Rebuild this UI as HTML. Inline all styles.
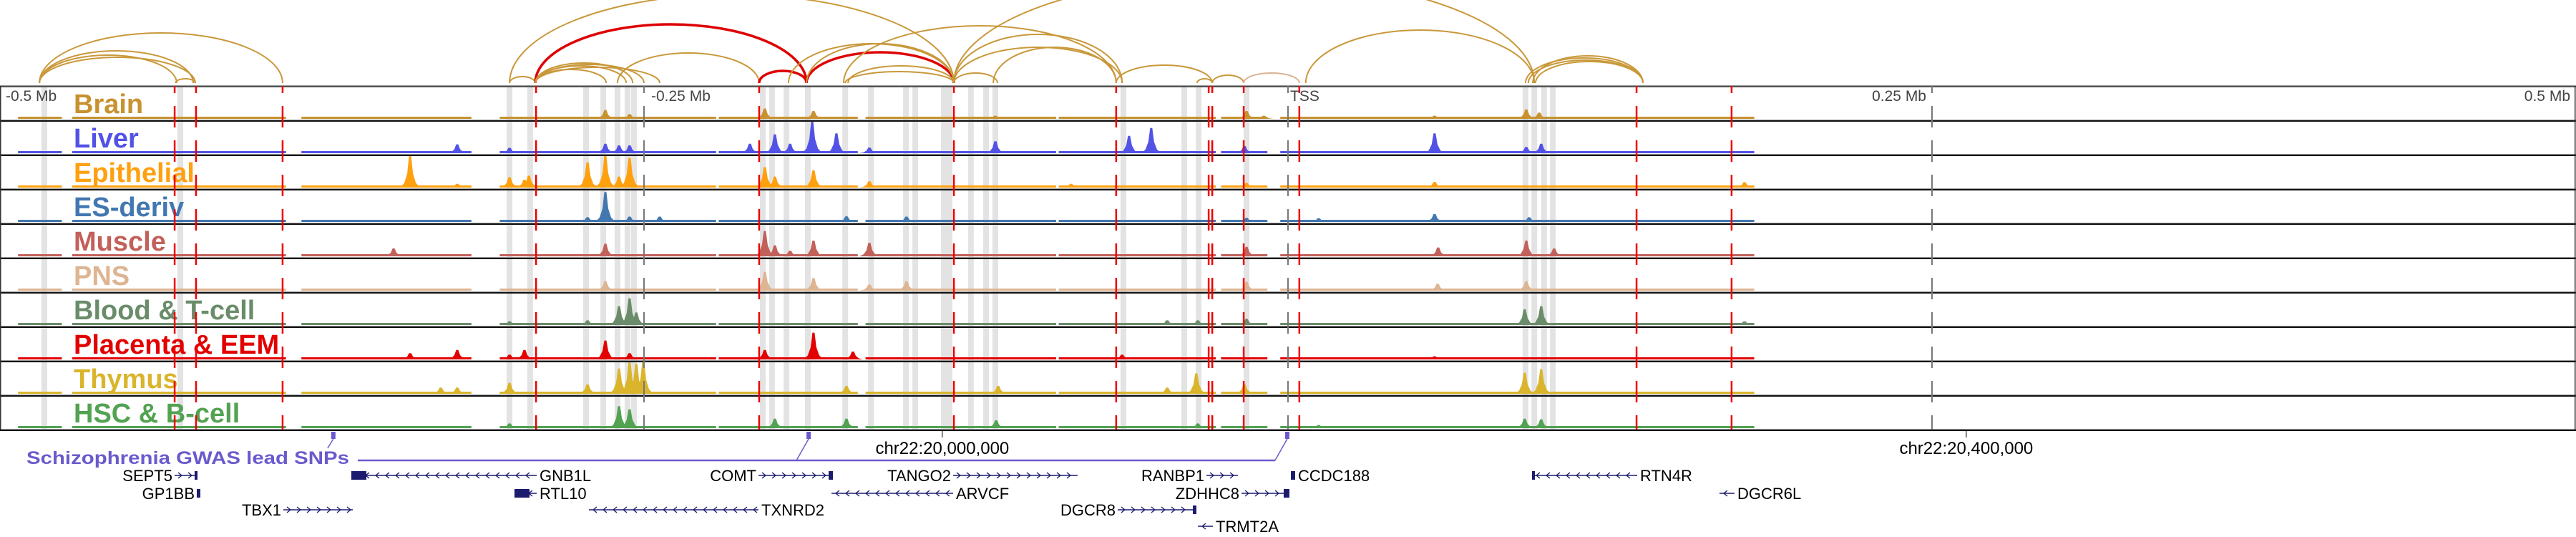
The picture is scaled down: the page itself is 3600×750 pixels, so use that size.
<!DOCTYPE html>
<html><head><meta charset="utf-8">
<style>
html,body{margin:0;padding:0;background:#fff;}
svg{display:block;font-family:"Liberation Sans",Arial,sans-serif;}
</style></head>
<body>
<svg id="chart" width="3600" height="750" viewBox="0 0 3600 750" xmlns="http://www.w3.org/2000/svg">
<g id="bands"></g>
<g id="arcs"></g>
<g id="tracks"></g>
<g id="vlines"></g>
<g id="axis"></g>
<g id="genes"></g>
</svg>
<script>
// ---- data (genomic offsets in kb relative to TSS) ----
const trackNames = ["Brain","Liver","Epithelial","ES-deriv","Muscle","PNS","Blood & T-cell","Placenta & EEM","Thymus","HSC & B-cell"];
const trackColors = ["#c8922f","#5252e6","#ffa00f","#4277b0","#c2605a","#deb592","#6a8c6a","#e20000","#dab52c","#52a252"];
const coverage = [[-493,-476],[-472,-389],[-383,-317],[-306,-222],[-221,-167],[-164,-90],[-89,-28],[-26,-8],[-3,181]];
const peaksBrain = [[-265,0.28],[-203.1,0.33],[-184.2,0.25],[-255.6,0.15],[-302.2,0.07],[92.5,0.3],[97.5,0.2],[56.9,0.1],[-16.1,0.25],[-9.4,0.1],[-482.8,0.06],[-113.6,0.1]];
const peaksLiver = [[-184.7,1.0],[-175.3,0.63],[-199.2,0.6],[-193.3,0.3],[-322.5,0.28],[-265,0.3],[-259.7,0.25],[-255.6,0.25],[-208.9,0.3],[-113.6,0.38],[-162.5,0.18],[-302.2,0.17],[-53.1,0.8],[-61.7,0.55],[56.9,0.63],[98.3,0.3],[92.5,0.2],[-16.9,0.23]];
const peaksEpithelial = [[-340.8,1.0],[-265,1.0],[-271.9,0.8],[-255.6,0.95],[-259.7,0.35],[-302.2,0.33],[-294.7,0.38],[-296.4,0.25],[-203.1,0.65],[-184.2,0.55],[-199.2,0.35],[-162.5,0.2],[-322.5,0.12],[56.9,0.18],[-84.2,0.12],[177.2,0.17],[-16.1,0.15]];
const peaksES = [[-265,0.95],[-271.9,0.15],[-243.9,0.17],[-255.6,0.17],[-171.4,0.18],[-148.1,0.17],[56.9,0.25],[93.6,0.15],[11.9,0.12],[-16.1,0.13]];
const peaksMuscle = [[-203.1,0.8],[-184.2,0.5],[-265,0.4],[-162.5,0.43],[-199.2,0.35],[-347.2,0.25],[-193.3,0.18],[92.5,0.5],[58.3,0.28],[103.3,0.25],[-16.1,0.3]];
const peaksPNS = [[-203.1,0.6],[-184.2,0.4],[-265,0.3],[-148.1,0.3],[-162.5,0.2],[92.5,0.3],[58.1,0.22],[-16.1,0.28]];
const peaksBlood = [[-255.6,0.85],[-259.7,0.6],[-253,0.4],[-271.9,0.15],[98.3,0.6],[91.9,0.5],[-46.9,0.15],[-35,0.15],[-16.1,0.2],[177.2,0.12],[-302.2,0.12]];
const peaksPlacenta = [[-184.2,0.85],[-265,0.6],[-322.5,0.3],[-340.8,0.2],[-296.4,0.3],[-302.2,0.15],[-203.1,0.3],[-168.9,0.25],[-255.6,0.2],[-64.4,0.15],[56.9,0.1]];
const peaksThymus = [[-255.6,1.0],[-250.3,1.0],[-253,0.95],[-259.7,0.8],[-271.9,0.3],[-302.2,0.35],[-328.9,0.2],[-322.5,0.2],[-171.4,0.25],[-112.5,0.25],[-35.6,0.65],[98.3,0.78],[91.9,0.67],[-16.9,0.3],[-46.9,0.2]];
const peaksHSC = [[-259.7,0.7],[-255.6,0.6],[-302.2,0.15],[-171.4,0.3],[-199.2,0.3],[-113.3,0.25],[91.9,0.3],[98.3,0.28],[-35,0.15],[11.9,0.1]];
const allPeaks = [peaksBrain,peaksLiver,peaksEpithelial,peaksES,peaksMuscle,peaksPNS,peaksBlood,peaksPlacenta,peaksThymus,peaksHSC];
const enhancerKb = [-482.8,-430,-302.2,-294.2,-272.5,-265.8,-260.3,-256.4,-253.9,-203.9,-200.3,-194.7,-186.4,-171.9,-161.9,-148.3,-144.7,-133.6,-131.4,-123.1,-117.2,-113.6,-63.9,-40.3,-34.7,-16.1,92.2,95.6,99.4,102.8];
const snpPos = [-370.6,-186.1,-0.3];
const redLineKb = [-432.2,-423.9,-390.3,-291.9,-205.3,-129.7,-66.7,-30.8,-29.4,-17.2,4.4,135.3,172.2];
const arcStart = [-484.7,-484.7,-484.7,-484.7,-431.9,-302.2,-302.2,-292.2,-292.2,-292.2,-292.2,-292.2,-292.2,-260.3,-205.3,-186.9,-193.9,-186.9,-170.8,-171.9,-129.7,-172.5,-129.7,-114.4,-129.7,-66.7,-35.3,-29.4,-17.2,6.9,92.2,93.3,95.0,96.1,-129.7];
const arcEnd   = [-390.3,-431.4,-425,-424.2,-424.2,-292.2,-129.7,-186.9,-264.7,-250,-254.4,-256.9,-243.9,-205.3,-186.9,-129.7,-129.7,-129.7,-129.7,-129.7,-112.8,-66.7,-64.4,-66.7,-64.4,-29.4,-29.4,-17.2,4.4,95.6,137.8,137.8,137.8,137.8,95.6];
const arcPeak  = [46,77,71,80,110,107,-8,34,97,90,88,92,94,74,99,73,61,61,92,100,102,36,48,66,66,91,110,105,102,42,81,84,78,86,-34];
const arcKind  = ["g","g","g","g","g","g","g","r","g","g","g","g","g","g","r","r","g","g","g","g","g","g","g","g","g","g","g","g","t","g","g","g","g","g","g"];
const axisKb = [-500,-250,0,250,500];
const axisText = ["-0.5 Mb","-0.25 Mb","TSS","0.25 Mb","0.5 Mb"];
const coordText = ["chr22:20,000,000","chr22:20,400,000"];
const coordKb = [-134.2,263.3];

// ---- scales ----
const W=3600, TOP=120, TH=48;
const x = kb => 1800 + kb*3.6;
const NS="http://www.w3.org/2000/svg";
function mk(tag, attrs, parent){const e=document.createElementNS(NS,tag);for(const k in attrs)e.setAttribute(k,attrs[k]);parent.appendChild(e);return e;}
const gB=document.getElementById('bands'),gA=document.getElementById('arcs'),gT=document.getElementById('tracks'),gV=document.getElementById('vlines'),gX=document.getElementById('axis'),gG=document.getElementById('genes');

// bands
enhancerKb.forEach(k=>{
  const r=mk('rect',{x:x(k)-4,y:TOP+2,width:8,height:TH*10-2,fill:"#e3e3e3"},gB);
  
  
});
// arcs
const arcColor={g:"#c9983a",r:"#de0000",t:"#dbb394"};
arcStart.forEach((s,i)=>{
  const x1=x(s),x2=x(arcEnd[i]),base=116,H=base-arcPeak[i],rx=Math.abs(x2-x1)/2;
  const p=mk('path',{d:`M${x1},${base} A${rx},${H} 0 0 1 ${x2},${base}`,fill:"none",stroke:arcColor[arcKind[i]],"stroke-width":arcKind[i]==="r"?3.5:2},gA);
  
  
});
// tracks
trackNames.forEach((name,t)=>{
  const top=TOP+t*TH, base=top+TH-2, col=trackColors[t];
  const g=mk('g',{},gT);
  
  
  const lab=mk('text',{x:103,y:top+38,"font-size":38,"font-weight":"bold",fill:col},g);
  lab.textContent=name;
  
  
  coverage.forEach(c=>{
    const r=mk('rect',{x:x(c[0]),y:base-3,width:x(c[1])-x(c[0]),height:3,fill:col},g);
    
    
  });
  allPeaks[t].forEach(p=>{
    const px=x(p[0]),h=p[1]*44;
    const poly=mk('polygon',{points:`${px-14},${base} ${px-8},${base-h*0.15} ${px-4},${base-h*0.45} ${px-1.5},${base-h} ${px+1.5},${base-h} ${px+4},${base-h*0.45} ${px+8},${base-h*0.15} ${px+14},${base}`,fill:col},g);
    
    
  });
});
// separators
for(let t=0;t<=10;t++){
  const y=TOP+t*TH;
  mk('rect',{x:0,y:y-1,width:W,height:1,fill:"#999"},gV);
  mk('rect',{x:0,y:y,width:W,height:2,fill:t===0?"#555":"#111"},gV);
}
mk('rect',{x:0,y:TOP,width:1.5,height:TH*10,fill:"#333"},gV);
mk('rect',{x:W-2,y:TOP,width:1.5,height:TH*10,fill:"#333"},gV);
// red dashed lines
redLineKb.forEach(k=>{
  const l=mk('line',{x1:x(k),y1:TOP,x2:x(k),y2:TOP+TH*10,stroke:"#ee0000","stroke-width":2.5,"stroke-dasharray":"30 18","stroke-dashoffset":20},gV);
  
  
});
// axis ticks & labels
axisKb.forEach((k,i)=>{
  if(i>0&&i<4){mk('line',{x1:x(k),y1:TOP,x2:x(k),y2:TOP+TH*10,stroke:"#777","stroke-width":2,"stroke-dasharray":"30 18","stroke-dashoffset":20},gV);}
  const anchor=i>=3?"end":"start";
  const tx=i===0?8:(i===1?x(k)+10:(i===2?x(k)+3:x(k)-8));
  const t=mk('text',{x:tx,y:141,"font-size":21,fill:"#444","text-anchor":anchor},gX);
  t.textContent=axisText[i];
  
  
});
// coordinates
coordText.forEach((c,i)=>{
  const cx=x(coordKb[i]);
  mk('line',{x1:cx,y1:601,x2:cx,y2:611,stroke:"#000","stroke-width":1},gX);
  const t=mk('text',{x:cx,y:634,"font-size":24,fill:"#000","text-anchor":"middle"},gX);
  t.textContent=c;
  
  
});
// GWAS SNPs
const pur="#6a5acd";
const gl=mk('text',{x:37,y:648,"font-size":25,"font-weight":"bold",fill:pur,textLength:451,lengthAdjust:"spacingAndGlyphs"},gG);
gl.textContent="Schizophrenia GWAS lead SNPs";


mk('line',{x1:500,y1:643,x2:1782,y2:643,stroke:pur,"stroke-width":2.5},gG);
snpPos.forEach((k,i)=>{
  const sx=x(k);
  const r=mk('rect',{x:sx-3,y:603,width:6,height:10,fill:pur},gG);
  
  
});
mk('line',{x1:x(snpPos[0]),y1:613,x2:x(snpPos[0])-8,y2:626,stroke:pur,"stroke-width":1.5},gG);
mk('line',{x1:x(snpPos[1]),y1:613,x2:x(snpPos[1])-17,y2:643,stroke:pur,"stroke-width":1.5},gG);
mk('line',{x1:x(snpPos[2]),y1:613,x2:x(snpPos[2])-17,y2:643,stroke:pur,"stroke-width":1.5},gG);
// genes
const genes=[
 ["SEPT5",244,276,664,1,"L",[[272,276]]],
 ["GNB1L",491,750,664,-1,"R",[[491,512]]],
 ["COMT",1060,1164,664,1,"L",[[1158,1164]]],
 ["TANGO2",1332,1506,664,1,"L",[]],
 ["RANBP1",1686,1730,664,1,"L",[]],
 ["CCDC188",1804,1810,664,1,"R",[[1804,1810]]],
 ["RTN4R",2141,2288,664,-1,"R",[[2141,2145]]],
 ["GP1BB",275,280,689,1,"L",[[275,280]]],
 ["RTL10",719,750,689,-1,"R",[[719,740]]],
 ["ARVCF",1162,1332,689,-1,"R",[]],
 ["ZDHHC8",1735,1802,689,1,"L",[[1794,1802]]],
 ["DGCR6L",2403,2424,689,-1,"R",[]],
 ["TBX1",396,493,712,1,"L",[]],
 ["TXNRD2",823,1060,712,-1,"R",[]],
 ["DGCR8",1562,1672,712,1,"L",[[1667,1672]]],
 ["TRMT2A",1674,1695,735,-1,"R",[]]
];
const navy="#1c1c6e";
genes.forEach(gn=>{
  const [name,s,e,y,dir,side,boxes]=gn;
  const g=mk('g',{},gG);
  
  
  mk('line',{x1:s,y1:y,x2:e,y2:y,stroke:navy,"stroke-width":1.5},g);
  for(let cx=s+8;cx<e-4;cx+=14){
    mk('polyline',{points:dir>0?`${cx-3},${y-4} ${cx+2},${y} ${cx-3},${y+4}`:`${cx+3},${y-4} ${cx-2},${y} ${cx+3},${y+4}`,fill:"none",stroke:navy,"stroke-width":1.3},g);
  }
  boxes.forEach(b=>mk('rect',{x:b[0],y:y-6,width:Math.max(4,b[1]-b[0]),height:12,fill:navy},g));
  const t=mk('text',{x:side==="L"?s-3:e+4,y:y+8,"font-size":22,fill:"#000","text-anchor":side==="L"?"end":"start"},g);
  t.textContent=name;
});
</script>
</body></html>
